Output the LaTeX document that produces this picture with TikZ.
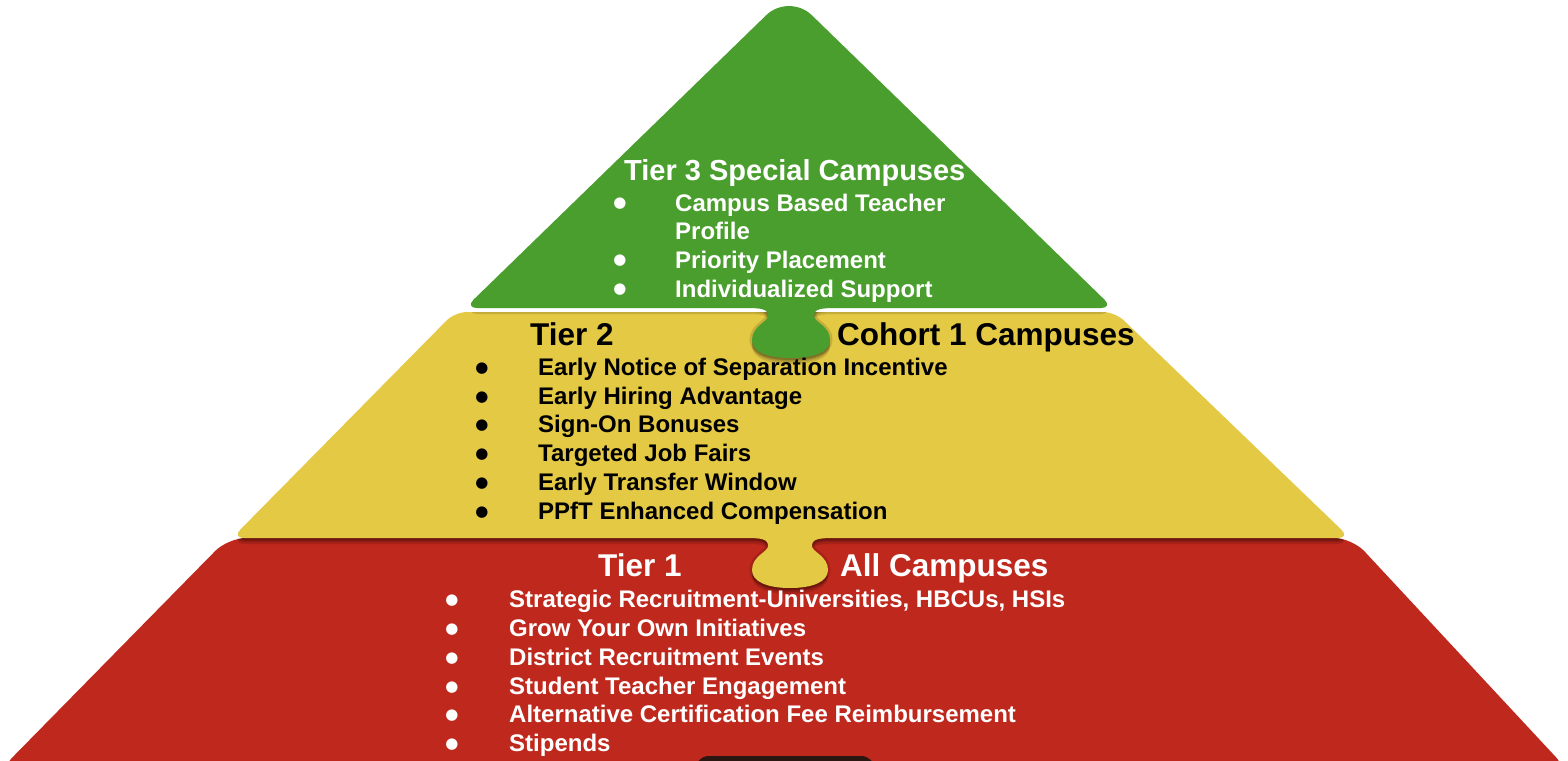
\documentclass[tikz,border=0pt]{standalone}
\usepackage{fontspec}
\setmainfont{Liberation Sans}
\newfontfamily\symfont{DejaVu Sans}
\definecolor{tiergreen}{RGB}{74,158,46}
\definecolor{tieryellow}{RGB}{228,201,68}
\definecolor{tierred}{RGB}{191,40,29}
\definecolor{tierdark}{RGB}{44,22,18}

% outlines of the three puzzle layers (units: pt, y pointing down)
\newcommand\greenpath{(745,308) -- (477,308)
  .. controls (470.4,308) and (468.9,304.2) .. (473.6,299.6)
  -- (766.1,15.3) .. controls (778.7,3.0) and (799.3,3.0) .. (811.9,15.3)
  -- (1104.4,299.6) .. controls (1109.1,304.2) and (1107.6,308) .. (1101,308)
  -- (837,308) .. controls (820,308) and (814,309) .. (814,316)
  .. controls (814,322) and (830,326) .. (830,340)
  .. controls (830,352) and (814,358) .. (791,358)
  .. controls (768,358) and (752,352) .. (752,340)
  .. controls (752,326) and (768,322) .. (768,316)
  .. controls (768,309) and (762,308) .. (745,308) -- cycle}
\newcommand\yellowpath{(745,538) -- (244,538)
  .. controls (237.4,538) and (235.8,534.2) .. (240.4,529.5)
  -- (446.6,320.5) .. controls (451.2,315.8) and (460.4,312) .. (467,312)
  -- (1103,312) .. controls (1109.6,312) and (1118.9,315.7) .. (1123.7,320.3)
  -- (1341.4,529.7) .. controls (1346.1,534.3) and (1344.6,538) .. (1338,538)
  -- (835,538) .. controls (818,538) and (812,539) .. (812,546)
  .. controls (812,552) and (828,556) .. (828,570)
  .. controls (828,582) and (812,588) .. (790,588)
  .. controls (768,588) and (752,582) .. (752,570)
  .. controls (752,556) and (768,552) .. (768,546)
  .. controls (768,539) and (762,538) .. (745,538) -- cycle}
\newcommand\redpath{(246,538) -- (1334,538)
  .. controls (1343.9,538) and (1357.5,543.9) .. (1364.3,551.2)
  -- (1556.5,757.8) .. controls (1561.7,763.4) and (1559.7,768) .. (1552,768)
  -- (16,768) .. controls (8.3,768) and (6.4,763.5) .. (11.8,758)
  -- (215.4,550.8) .. controls (222.3,543.8) and (236.1,538) .. (246,538) -- cycle}

\begin{document}
\begin{tikzpicture}[x=1pt,y=-1pt,
  head/.style={anchor=base west, inner sep=0pt, font=\bfseries\fontsize{31.5}{31.5}\selectfont},
  item/.style={anchor=base west, inner sep=0pt, font=\bfseries\fontsize{24}{24}\selectfont},
  dot/.style={anchor=center, inner sep=0pt, font=\symfont\fontsize{15}{15}\selectfont},
  shade/.style={black, opacity=0.13}]
\clip (0,0) rectangle (1568,760);
\fill[white] (0,0) rectangle (1568,760);

% bottom layer
\fill[tierred] \redpath;
\fill[tierdark, rounded corners=14pt] (695,756) rectangle (875,800);
\begin{scope}
  \clip \redpath;
  \foreach \d in {2,4,6} \fill[shade, shift={(0,\d)}] \yellowpath;
  \draw[shade, line width=5pt] \yellowpath;
\end{scope}

% middle layer
\fill[tieryellow] \yellowpath;
\begin{scope}
  \clip \yellowpath;
  \foreach \d in {2,4,6} \fill[shade, shift={(0,\d)}] \greenpath;
  \draw[shade, line width=5pt] \greenpath;
\end{scope}

% top layer
\fill[tiergreen] \greenpath;

% Tier 3
\node[head, white, font=\bfseries\fontsize{29}{29}\selectfont] (t3) at (624,180) {Tier 3 Special Campuses};
\node[dot, white] (d3-1) at (620,204) {●};
\node[item, white] (i3-1) at (675,211) {Campus Based Teacher};
\node[item, white] (i3-1b) at (675,239) {Profile};
\node[dot, white] (d3-2) at (620,261) {●};
\node[item, white] (i3-2) at (675,268) {Priority Placement};
\node[dot, white] (d3-3) at (620,290) {●};
\node[item, white] (i3-3) at (675,297) {Individualized Support};

% Tier 2
\node[head, black] (t2) at (530,345) {Tier 2};
\node[head, black] (t2c) at (837,345) {Cohort 1 Campuses};
\foreach \y/\txt [count=\i] in {375.5/Early Notice of Separation Incentive,
    404.5/Early Hiring Advantage, 432.5/Sign-On Bonuses, 461.5/Targeted Job Fairs,
    490.5/Early Transfer Window, 519.5/PPfT Enhanced Compensation} {
  \node[dot, black] (d2-\i) at (482,\y-7) {●};
  \node[item, black] (i2-\i) at (538,\y) {\txt};
}

% Tier 1
\node[head, white] (t1) at (598,576) {Tier 1};
\node[head, white] (t1c) at (840,576) {All Campuses};
\foreach \y/\txt [count=\i] in {607.5/{Strategic Recruitment-Universities, HBCUs, HSIs},
    636.5/Grow Your Own Initiatives, 665.5/District Recruitment Events,
    694.5/Student Teacher Engagement, 722.5/Alternative Certification Fee Reimbursement,
    751.5/Stipends} {
  \node[dot, white] (d1-\i) at (452,\y-7) {●};
  \node[item, white] (i1-\i) at (509,\y) {\txt};
}
\end{tikzpicture}
\end{document}
